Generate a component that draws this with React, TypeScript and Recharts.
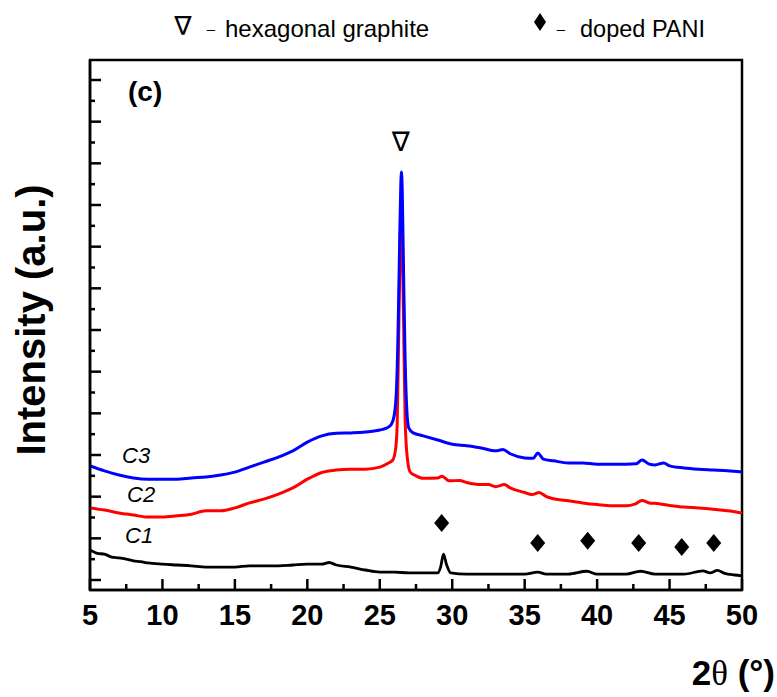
import { ComposedChart, Line, Scatter, XAxis, YAxis, ReferenceArea } from "recharts";

// XRD patterns, 2θ (deg) vs intensity (a.u., 100 per major tick)
const c3Pattern: [number, number][] = [
  [5, 274], [6, 262], [7, 252], [8, 245], [9, 242], [10, 242], [11, 242], [12, 245],
  [13, 247], [14, 252], [15, 259], [16, 271], [17, 283], [18, 295], [19, 310], [20, 331],
  [21, 346], [22, 352], [23, 353], [24, 355], [25, 360], [25.5, 365], [25.8, 374], [26.0, 396],
  [26.15, 456], [26.25, 576], [26.35, 768], [26.45, 948], [26.5, 979], [26.55, 936], [26.65, 720],
  [26.75, 528], [26.85, 420], [27.0, 365], [27.3, 353], [28, 346], [29, 336], [30, 326],
  [31, 322], [32, 317], [33, 310], [33.5, 313], [34, 303], [35, 293], [35.6, 292], [35.9, 305],
  [36.3, 290], [37, 286], [38, 281], [39, 281], [40, 278], [41, 278], [42, 278], [42.7, 279],
  [43.1, 288], [43.6, 278], [44, 276], [44.6, 281], [45, 274], [46, 269], [47, 266], [48, 264],
  [49, 262], [50, 259],
];

const c2Pattern: [number, number][] = [
  [5, 173], [6, 168], [7, 161], [8, 156], [9, 151], [10, 151], [11, 154], [12, 158],
  [13, 166], [14, 166], [15, 173], [16, 185], [17, 194], [18, 206], [19, 221], [20, 242],
  [21, 258], [22, 264], [23, 266], [24, 266], [25, 271], [25.6, 281], [25.9, 288], [26.1, 317],
  [26.2, 372], [26.3, 576], [26.4, 792], [26.48, 912], [26.55, 816], [26.65, 600], [26.75, 384],
  [26.9, 293], [27.1, 259], [27.5, 250], [28, 244], [29, 245], [29.3, 249], [29.8, 238],
  [30.5, 239], [31, 234], [32, 229], [32.5, 229], [33, 224], [33.6, 229], [34, 221], [35, 210],
  [35.5, 205], [36, 210], [36.5, 200], [37, 195], [38, 190], [39, 185], [40, 181], [41, 178],
  [42, 178], [42.6, 182], [43.1, 191], [43.6, 185], [44, 184], [45, 179], [46, 175], [47, 173],
  [48, 170], [49, 166], [50, 161],
];

const c1Pattern: [number, number][] = [
  [5, 72], [5.5, 64], [6, 62], [6.5, 55], [7, 53], [7.5, 50], [8, 46], [8.5, 44], [9, 41],
  [10, 38], [11, 36], [12, 34], [13, 31], [14, 31], [15, 31], [16, 34], [17, 34], [18, 34],
  [19, 36], [20, 38], [21, 38], [21.5, 42], [22, 36], [23, 31], [24, 24], [25, 19], [26, 19],
  [27, 17], [28, 17], [29, 17], [29.2, 31], [29.4, 62], [29.6, 38], [29.9, 17], [31, 14],
  [32, 14], [33, 14], [34, 14], [35, 14], [35.9, 19], [36.5, 14], [37, 14], [38, 14],
  [39.3, 21], [40, 14], [41, 14], [42, 14], [43, 21], [44, 14], [45, 14], [46, 14],
  [47.3, 22], [47.8, 17], [48.3, 23], [48.8, 16], [49.5, 12], [50, 10],
];

// doped PANI reflections (diamond markers) and the graphite (002) marker
const paniMarks: [number, number][] = [
  [29.27, 137], [35.9, 89], [39.35, 94], [42.87, 89], [45.84, 79], [48.05, 89],
];
const graphiteMark: [number, number][] = [[26.45, 1051]];

const xTicks = [5, 7.5, 10, 12.5, 15, 17.5, 20, 22.5, 25, 27.5, 30, 32.5, 35, 37.5, 40, 42.5, 45, 47.5, 50];
const yTicks = [0, 50, 100, 150, 200, 250, 300, 350, 400, 450, 500, 550, 600, 650, 700, 750, 800, 850, 900, 950, 1000, 1050, 1100, 1150, 1200];

const toRows = (pts: [number, number][]) => pts.map(([theta, v]) => ({ theta, v }));

const FONT = "'Liberation Sans', Arial, sans-serif";

const XTick = (props: any) => {
  const { x, y, payload } = props;
  const major = payload.value % 5 === 0;
  return (
    <g>
      <line x1={x} y1={y} x2={x} y2={y - (major ? 11 : 6)} stroke="#000" strokeWidth={2.5} />
      {major && (
        <text x={x} y={y + 35} textAnchor="middle" fontFamily={FONT} fontWeight="bold" fontSize={29} fill="#000">
          {payload.value}
        </text>
      )}
    </g>
  );
};

const YTick = (props: any) => {
  const { x, y, payload } = props;
  const major = payload.value % 100 === 0;
  return <line x1={x} y1={y} x2={x + (major ? 11 : 5)} y2={y} stroke="#000" strokeWidth={2.5} />;
};

const Diamond = (p: any) => (
  <polygon
    points={`${p.cx},${p.cy - 9} ${p.cx + 7.5},${p.cy} ${p.cx},${p.cy + 9} ${p.cx - 7.5},${p.cy}`}
    fill="#000"
  />
);

const Nabla = (p: any) => (
  <text x={p.cx} y={p.cy + 9} textAnchor="middle" fontFamily="'DejaVu Sans', sans-serif" fontSize={27} fill="#000">
    ∇
  </text>
);

export default function App() {
  return (
    <div style={{ position: "absolute", left: 0, top: 0, width: 777, height: 697, background: "#fff" }}>
      <ComposedChart width={777} height={697} margin={{ top: 60, right: 35, bottom: 77, left: 30 }}>
        <XAxis
          type="number"
          dataKey="theta"
          domain={[5, 50]}
          ticks={xTicks}
          interval={0}
          allowDataOverflow
          tickSize={0}
          tickMargin={0}
          height={30}
          axisLine={{ stroke: "#000", strokeWidth: 2.5 }}
          tickLine={false}
          tick={<XTick />}
        />
        <YAxis
          type="number"
          domain={[-24, 1248]}
          ticks={yTicks}
          interval={0}
          allowDataOverflow
          tickSize={0}
          tickMargin={0}
          width={60}
          axisLine={{ stroke: "#000", strokeWidth: 2.5 }}
          tickLine={false}
          tick={<YTick />}
        />
        <ReferenceArea x1={5} x2={50} y1={-24} y2={1248} fill="none" stroke="#000" strokeWidth={2.5} ifOverflow="visible" />
        <Line data={toRows(c1Pattern)} dataKey="v" type="monotone" stroke="#000" strokeWidth={2.8} dot={false} isAnimationActive={false} />
        <Line data={toRows(c2Pattern)} dataKey="v" type="monotone" stroke="#ff0000" strokeWidth={3} dot={false} isAnimationActive={false} />
        <Line data={toRows(c3Pattern)} dataKey="v" type="monotone" stroke="#0000ff" strokeWidth={3} dot={false} isAnimationActive={false} />
        <Scatter data={toRows(paniMarks)} dataKey="v" shape={<Diamond />} isAnimationActive={false} />
        <Scatter data={toRows(graphiteMark)} dataKey="v" shape={<Nabla />} isAnimationActive={false} />
      </ComposedChart>
      <svg width={777} height={697} style={{ position: "absolute", left: 0, top: 0, pointerEvents: "none" }}>
        <g fontFamily={FONT} fill="#000">
          <text x={183} y={35} textAnchor="middle" fontFamily="'DejaVu Sans', sans-serif" fontSize={26}>∇</text>
          <text x={211} y={34} textAnchor="middle" fontSize={15}>–</text>
          <text x={225} y={37} fontSize={24}>hexagonal graphite</text>
          <polygon points="540,13 546,22 540,31 534,22" />
          <text x={561} y={34} textAnchor="middle" fontSize={15}>–</text>
          <text x={580} y={37} fontSize={23.5}>doped PANI</text>
          <text x={128} y={101} fontSize={28} fontWeight="bold">(c)</text>
          <text x={122} y={463} fontSize={22} fontStyle="italic">C3</text>
          <text x={127} y={502} fontSize={22} fontStyle="italic">C2</text>
          <text x={125} y={543} fontSize={22} fontStyle="italic">C1</text>
          <text x={31} y={320} transform="rotate(-90 31 320)" textAnchor="middle" dominantBaseline="central" fontSize={40} fontWeight="bold">
            Intensity (a.u.)
          </text>
          <text x={775} y={685} textAnchor="end" fontSize={35} fontWeight="bold">
            2<tspan fontFamily="'Liberation Serif', serif" fontWeight="normal">θ</tspan> (°)
          </text>
        </g>
      </svg>
    </div>
  );
}
